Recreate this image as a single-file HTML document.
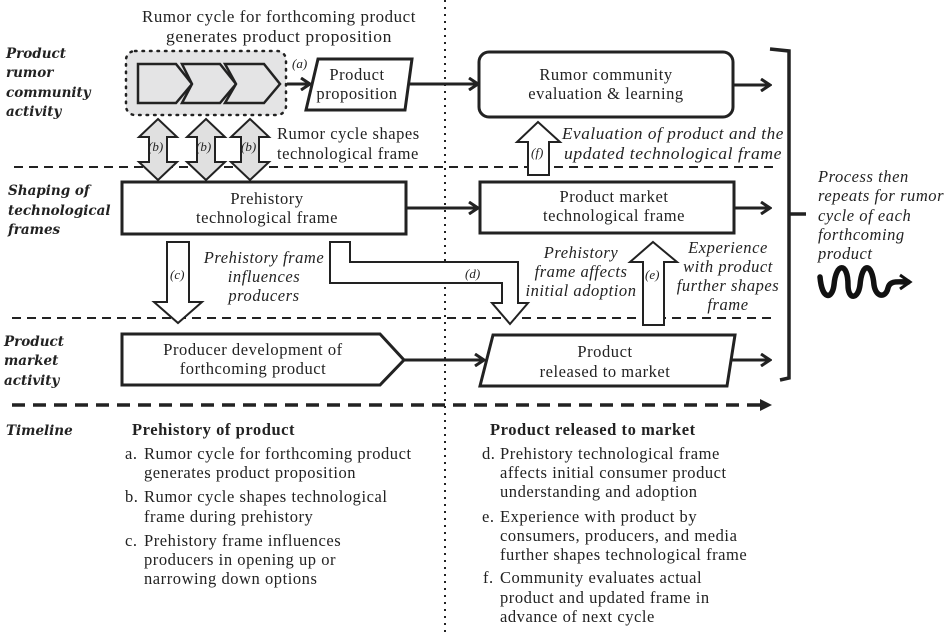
<!DOCTYPE html>
<html><head><meta charset="utf-8"><style>
html,body{margin:0;padding:0;background:#fff;}
svg{display:block;}
text{font-family:"Liberation Serif","DejaVu Serif",serif;fill:#222;font-size:16.5px;letter-spacing:0.55px;}
.i{font-style:italic;}
.b{font-weight:bold;}
.bi{font-weight:bold;font-style:italic;font-family:"DejaVu Serif","Liberation Serif",serif;font-size:13.5px;letter-spacing:0;}
.s{font-size:13px;letter-spacing:0;}
</style></head><body>
<svg width="951" height="632" viewBox="0 0 951 632" xmlns="http://www.w3.org/2000/svg">
<defs>
<marker id="ah" markerWidth="12" markerHeight="14" refX="10" refY="7" orient="auto" markerUnits="userSpaceOnUse">
<path d="M1,1 L10,7 L1,13" fill="none" stroke="#222" stroke-width="3"/>
</marker>
</defs>
<g fill="none" stroke="#222">
<line x1="445" y1="0" x2="445" y2="632" stroke-width="2" stroke-dasharray="2,5"/>
<line x1="14" y1="167" x2="773" y2="167" stroke-width="2" stroke-dasharray="9,6"/>
<line x1="12" y1="318" x2="773" y2="318" stroke-width="2" stroke-dasharray="9,6"/>
<line x1="12" y1="405" x2="760" y2="405" stroke-width="3.5" stroke-dasharray="13,8"/>
</g>
<path d="M760,399 L772,405 L760,411 Z" fill="#222"/>

<rect x="126" y="51" width="160" height="64" rx="9" fill="#e4e4e5" stroke="#222" stroke-width="2.5" stroke-dasharray="1.5,6" stroke-linecap="round"/>
<g fill="#e4e4e5" stroke="#222" stroke-width="2.5" stroke-linejoin="miter">
<path d="M138,64 L176,64 L192,84 L176,103 L138,103 Z"/>
<path d="M182,64 L220,64 L236,84 L220,103 L182,103 L192,84 Z"/>
<path d="M225,64 L264,64 L280,84 L264,103 L225,103 L236,84 Z"/>
</g>
<g stroke="#222" stroke-width="3" fill="none">
<line x1="287" y1="84" x2="310" y2="84" marker-end="url(#ah)"/>
<line x1="406" y1="84" x2="478" y2="84" marker-end="url(#ah)"/>
<line x1="734" y1="85" x2="770" y2="85" marker-end="url(#ah)"/>
<line x1="406" y1="208" x2="478" y2="208" marker-end="url(#ah)"/>
<line x1="735" y1="208" x2="770" y2="208" marker-end="url(#ah)"/>
<line x1="404" y1="360" x2="484" y2="360" marker-end="url(#ah)"/>
<line x1="728" y1="360" x2="770" y2="360" marker-end="url(#ah)"/>
</g>
<g fill="#fff" stroke="#222" stroke-width="3">
<path d="M318,59 L412,59 L405,110 L306,110 Z"/>
<rect x="479" y="52" width="254" height="65" rx="10"/>
<rect x="122" y="182" width="284" height="52"/>
<rect x="480" y="182" width="254" height="51"/>
<path d="M122,334 L380,334 L404,360 L380,385 L122,385 Z"/>
<path d="M493,335 L735,335 L727,386 L480,386 Z"/>
</g>
<g fill="#e0e0e0" stroke="#222" stroke-width="2">
<path d="M158,119 L177,137 L167,137 L167,162 L177,162 L158,180 L139,162 L149,162 L149,137 L139,137 Z"/>
<path d="M206,119 L225,137 L215,137 L215,162 L225,162 L206,180 L187,162 L197,162 L197,137 L187,137 Z"/>
<path d="M250,119 L269,137 L259,137 L259,162 L269,162 L250,180 L231,162 L241,162 L241,137 L231,137 Z"/>
</g>
<g fill="#fff" stroke="#222" stroke-width="2">
<path d="M538,122 L560,142 L549,142 L549,175 L528,175 L528,142 L517,142 Z"/>
<path d="M167,242 L189,242 L189,302 L202,302 L178,323 L154,302 L167,302 Z"/>
<path d="M330,242 L350,242 L350,262 L518,262 L518,303 L528,303 L510,324 L492,303 L502,303 L502,283 L330,283 Z"/>
<path d="M653,242 L677,262 L664,262 L664,325 L643,325 L643,262 L630,262 Z"/>
</g>
<path d="M770,49 L789,51 L789,378 L780,380 M789,214 L806,214" fill="none" stroke="#222" stroke-width="3.5"/>
<path d="M820,277 C822,300 832,300 834,285 C836,262 848,262 848,285 C848,300 858,300 860,285 C862,262 872,262 874,285 C876,298 886,298 888,288 C890,280 898,282 908,282" fill="none" stroke="#111" stroke-width="5.5" stroke-linecap="round"/>
<path d="M900,275 L910,282 L900,289" fill="none" stroke="#111" stroke-width="3"/>

<g text-anchor="middle">
<text x="279" y="22" textLength="274" lengthAdjust="spacingAndGlyphs">Rumor cycle for forthcoming product</text>
<text x="279" y="42" textLength="226" lengthAdjust="spacingAndGlyphs">generates product proposition</text>
<text x="357" y="80">Product</text>
<text x="357" y="99">proposition</text>
<text x="606" y="80">Rumor community</text>
<text x="606" y="99">evaluation &amp; learning</text>
<text x="267" y="204">Prehistory</text>
<text x="267" y="223">technological frame</text>
<text x="614" y="202">Product market</text>
<text x="614" y="221">technological frame</text>
<text x="253" y="355">Producer development of</text>
<text x="253" y="374">forthcoming product</text>
<text x="605" y="357">Product</text>
<text x="605" y="377">released to market</text>
<text class="i" x="264" y="263">Prehistory frame</text>
<text class="i" x="264" y="282">influences</text>
<text class="i" x="264" y="301">producers</text>
<text class="i" x="581" y="258">Prehistory</text>
<text class="i" x="581" y="277">frame affects</text>
<text class="i" x="581" y="296">initial adoption</text>
<text class="i" x="728" y="253">Experience</text>
<text class="i" x="728" y="272">with product</text>
<text class="i" x="728" y="291">further shapes</text>
<text class="i" x="728" y="310">frame</text>
</g>
<text x="277" y="139">Rumor cycle shapes</text>
<text x="277" y="159">technological frame</text>
<text class="i" x="562" y="139" textLength="222" lengthAdjust="spacingAndGlyphs">Evaluation of product and the</text>
<text class="i" x="564" y="159" textLength="218" lengthAdjust="spacingAndGlyphs">updated technological frame</text>
<text class="i s" x="292" y="68">(a)</text>
<text class="i s" x="148" y="151">(b)</text>
<text class="i s" x="196" y="151">(b)</text>
<text class="i s" x="241" y="151">(b)</text>
<text class="i s" x="531" y="157">(f)</text>
<text class="i s" x="170" y="279">(c)</text>
<text class="i s" x="465" y="278">(d)</text>
<text class="i s" x="645" y="279">(e)</text>
<text class="i" x="818" y="182">Process then</text>
<text class="i" x="818" y="201">repeats for rumor</text>
<text class="i" x="818" y="221">cycle of each</text>
<text class="i" x="818" y="240">forthcoming</text>
<text class="i" x="818" y="259">product</text>
<text class="bi" x="6" y="58">Product</text>
<text class="bi" x="6" y="77">rumor</text>
<text class="bi" x="6" y="97">community</text>
<text class="bi" x="6" y="116">activity</text>
<text class="bi" x="8" y="195">Shaping of</text>
<text class="bi" x="8" y="215">technological</text>
<text class="bi" x="8" y="234">frames</text>
<text class="bi" x="4" y="346">Product</text>
<text class="bi" x="4" y="365">market</text>
<text class="bi" x="4" y="385">activity</text>
<text class="bi" x="6" y="435">Timeline</text>
<text class="b" x="132" y="435">Prehistory of product</text>
<text class="b" x="490" y="435">Product released to market</text>
<text x="125" y="459">a.</text><text x="144" y="459">Rumor cycle for forthcoming product</text>
<text x="144" y="478">generates product proposition</text>
<text x="125" y="502">b.</text><text x="144" y="502">Rumor cycle shapes technological</text>
<text x="144" y="522">frame during prehistory</text>
<text x="125" y="546">c.</text><text x="144" y="546">Prehistory frame influences</text>
<text x="144" y="565">producers in opening up or</text>
<text x="144" y="584">narrowing down options</text>
<text x="482" y="459">d.</text><text x="500" y="459">Prehistory technological frame</text>
<text x="500" y="478">affects initial consumer product</text>
<text x="500" y="497">understanding and adoption</text>
<text x="482" y="522">e.</text><text x="500" y="522">Experience with product by</text>
<text x="500" y="541">consumers, producers, and media</text>
<text x="500" y="560">further shapes technological frame</text>
<text x="483" y="583">f.</text><text x="500" y="583">Community evaluates actual</text>
<text x="500" y="603">product and updated frame in</text>
<text x="500" y="622">advance of next cycle</text>
</svg>
</body></html>
